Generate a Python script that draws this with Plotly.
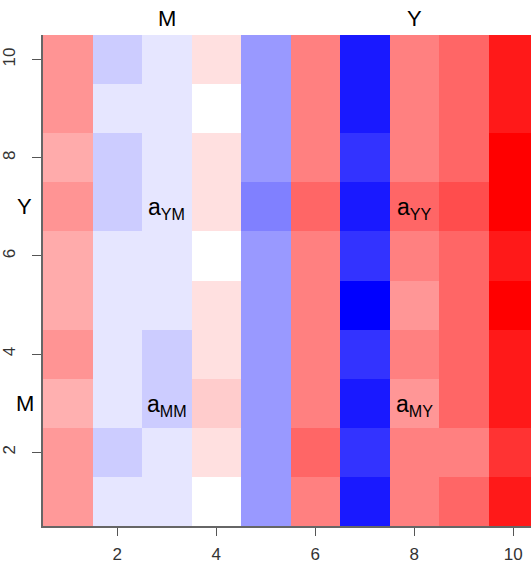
import plotly.graph_objects as go

x_vals = [1, 2, 3, 4, 5, 6, 7, 8, 9, 10]
y_vals = [1, 2, 3, 4, 5, 6, 7, 8, 9, 10]
# rows listed from y=1 (bottom) to y=10 (top)
row_y1 = [0.4, -0.1, -0.1, 0.0, -0.4, 0.5, -0.9, 0.5, 0.6, 0.9]
row_y2 = [0.4, -0.2, -0.1, 0.12, -0.4, 0.6, -0.8, 0.5, 0.5, 0.8]
row_y3 = [0.31, -0.1, -0.2, 0.2, -0.4, 0.5, -0.9, 0.41, 0.6, 0.9]
row_y4 = [0.42, -0.1, -0.2, 0.12, -0.4, 0.5, -0.8, 0.5, 0.6, 0.9]
row_y5 = [0.33, -0.1, -0.1, 0.12, -0.4, 0.5, -1.0, 0.41, 0.6, 1.0]
row_y6 = [0.33, -0.1, -0.1, 0.0, -0.4, 0.5, -0.8, 0.5, 0.6, 0.9]
row_y7 = [0.42, -0.2, -0.1, 0.12, -0.5, 0.6, -0.9, 0.6, 0.7, 1.0]
row_y8 = [0.33, -0.2, -0.1, 0.12, -0.4, 0.5, -0.8, 0.5, 0.6, 1.0]
row_y9 = [0.42, -0.1, -0.1, 0.0, -0.4, 0.5, -0.9, 0.5, 0.6, 0.9]
row_y10 = [0.42, -0.2, -0.1, 0.12, -0.4, 0.5, -0.9, 0.5, 0.6, 0.9]
z_rows = [row_y1, row_y2, row_y3, row_y4, row_y5, row_y6, row_y7, row_y8, row_y9, row_y10]

tick_vals = [2, 4, 6, 8, 10]
top_labels = [("M", 3), ("Y", 8)]
side_labels = [("Y", 7), ("M", 3)]
cell_labels = [("a<sub>YM</sub>", 3, 7), ("a<sub>YY</sub>", 8, 7),
               ("a<sub>MM</sub>", 3, 3), ("a<sub>MY</sub>", 8, 3)]

fig = go.Figure(go.Heatmap(
    x=x_vals, y=y_vals, z=z_rows,
    zmin=-1, zmax=1,
    colorscale=[[0, "#0000FF"], [0.5, "#FFFFFF"], [1, "#FF0000"]],
    showscale=False, hoverinfo="skip",
))

FONT = "Liberation Sans, Arial, sans-serif"
annotations = []
for txt, xv in top_labels:
    annotations.append(dict(x=xv, y=1, xref="x", yref="paper", text=txt,
                            showarrow=False, yanchor="bottom", yshift=2,
                            font=dict(family=FONT, size=22, color="black")))
for txt, yv in side_labels:
    annotations.append(dict(x=-0.037, y=yv, xref="paper", yref="y", text=txt,
                            showarrow=False, xanchor="center",
                            font=dict(family=FONT, size=22, color="black")))
for txt, xv, yv in cell_labels:
    annotations.append(dict(x=xv, y=yv, xref="x", yref="y", text=txt,
                            showarrow=False, yshift=-2,
                            font=dict(family=FONT, size=23, color="black")))

fig.update_layout(
    width=531, height=564,
    margin=dict(l=43, r=0, t=35, b=36),
    paper_bgcolor="white", plot_bgcolor="white",
    annotations=annotations,
    font=dict(family=FONT),
)
fig.update_xaxes(range=[0.5, 10.36], tickvals=tick_vals, ticks="outside", ticklen=8,
                 tickcolor="#555", showline=True, linecolor="#666", linewidth=1.5,
                 showgrid=False, zeroline=False,
                 tickfont=dict(family=FONT, size=17, color="#333"),
                 ticklabelstandoff=4)
fig.update_yaxes(range=[0.5, 10.5], tickvals=tick_vals, ticks="outside", ticklen=9,
                 tickcolor="#555", showline=True, linecolor="#666", linewidth=1.5,
                 showgrid=False, zeroline=False, tickangle=-90,
                 tickfont=dict(family=FONT, size=17, color="#333"),
                 ticklabelstandoff=10)

fig.write_html("out.html")
